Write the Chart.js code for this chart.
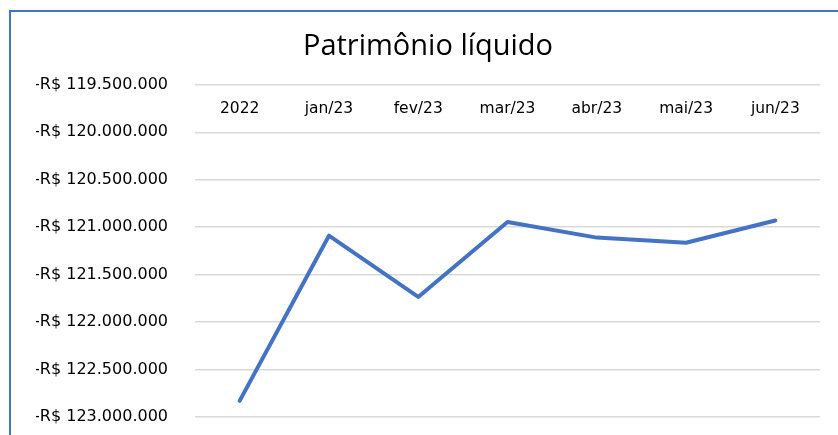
<!DOCTYPE html>
<html>
<head>
<meta charset="utf-8">
<script src="https://cdn.jsdelivr.net/npm/chart.js@4/dist/chart.umd.min.js"></script>
<style>
  body { margin: 0; background: #fff; }
  #wrap { position: relative; width: 838px; height: 435px; }
  #frame { position: absolute; left: 9px; top: 10px; right: 0; bottom: 0;
           border-left: 2px solid #4472C4; border-top: 2px solid #4472C4; }
  canvas { position: absolute; left: 0; top: 0; }
</style>
</head>
<body>
<div id="wrap">
  <div id="frame"></div>
  <canvas id="canvas" width="838" height="435"></canvas>
</div>
<script>
// Patrimonio liquido, values in R$
var labels = ['2022', 'jan/23', 'fev/23', 'mar/23', 'abr/23', 'mai/23', 'jun/23'];
var values = [-122830000, -121090000, -121735000, -120946000, -121110000, -121164000, -120930000];
var yMin = -123000000;
var yMax = -119500000;
var yStep = 500000;

function formatBRL(v) {
  var s = Math.abs(Math.round(v)).toString().replace(/\B(?=(\d{3})+(?!\d))/g, '.');
  return (v < 0 ? '-' : '') + 'R$ ' + s;
}

var ctx = document.getElementById('canvas').getContext('2d');
var chart = new Chart(ctx, {
  type: 'line',
  data: {
    labels: labels,
    datasets: [{
      label: 'Patrimônio líquido',
      data: values,
      borderColor: '#4472C4',
      borderWidth: 4,
      pointRadius: 0,
      borderCapStyle: 'round',
      borderJoinStyle: 'round',
      tension: 0
    }]
  },
  options: {
    responsive: false,
    maintainAspectRatio: false,
    animation: false,
    events: [],
    layout: { padding: { left: 36, right: 18, top: 0, bottom: 18 } },
    plugins: {
      legend: { display: false },
      tooltip: { enabled: false },
      title: {
        display: true,
        text: 'Patrimônio líquido',
        color: '#000',
        font: { family: 'Open Sans', size: 29, weight: 'normal' },
        padding: { top: 29, bottom: 21 }
      }
    },
    scales: {
      x: {
        // category axis sits on the top gridline, labels just under it
        position: { y: yMax },
        offset: true,
        grid: { display: false },
        border: { display: false },
        ticks: {
          color: '#000',
          padding: 7,
          maxRotation: 0,
          font: { family: 'DejaVu Sans', size: 15.5 }
        }
      },
      y: {
        min: yMin,
        max: yMax,
        afterFit: function(scale) {
          scale.width = 159;
          // tick padding is only wanted horizontally
          scale.paddingTop = 10;
          scale.paddingBottom = 10;
        },
        grid: { color: '#d9d9d9', lineWidth: 1.5, drawTicks: false },
        border: { display: false },
        ticks: {
          stepSize: yStep,
          color: '#000',
          padding: 27,
          font: { family: 'DejaVu Sans', size: 16 },
          callback: function(v) { return formatBRL(v); }
        }
      }
    }
  }
});
</script>
</body>
</html>
